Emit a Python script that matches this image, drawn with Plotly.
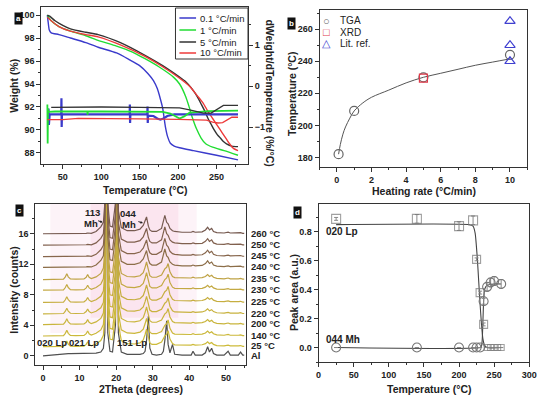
import plotly.graph_objects as go

W, H = 550, 399
def px(x): return x / W
def py(y): return 1 - y / H

FONT = "Liberation Sans"
AX = "#333333"

# ---------------- Panel a : TGA / dTG ----------------
tga01_T = [30, 31, 32.5, 35, 45, 60, 80, 96, 120, 137, 150, 161, 168, 173, 177, 180, 183.5, 186.5, 190, 195, 202, 220, 250, 278]
tga01_W = [100, 99.4, 98.7, 98.45, 98.3, 98.0, 97.6, 97.2, 96.7, 96.1, 95.6, 94.9, 94.3, 93.6, 92.7, 91.9, 90.3, 89.4, 88.85, 88.6, 88.45, 88.2, 87.8, 87.4]
tga1_T = [30, 35, 45, 60, 80, 96, 120, 140, 157, 175, 194, 202, 210, 214, 218, 224, 230, 236, 245, 260, 278]
tga1_W = [100, 99.5, 99.0, 98.6, 98.2, 97.8, 97.3, 96.8, 96.2, 95.5, 94.6, 94.0, 92.9, 92.1, 91.2, 90.1, 89.3, 88.8, 88.5, 88.2, 87.8]
tga5_T = [30, 33, 40, 50, 60, 80, 96, 125, 157, 180, 202, 210, 218, 225, 230.5, 235, 239, 243, 247, 251, 255, 259, 263, 270, 278]
tga5_W = [100, 99.9, 99.5, 99.1, 98.8, 98.5, 98.3, 97.6, 96.5, 95.6, 94.6, 94.2, 93.6, 92.9, 92.2, 91.6, 91.0, 90.5, 90.0, 89.6, 89.3, 89.0, 88.8, 88.6, 88.55]
tga10_T = [30, 35, 45, 60, 80, 96, 125, 157, 180, 202, 215, 226, 233, 239, 245, 251, 255, 259, 263, 267, 272, 278]
tga10_W = [99.8, 99.5, 99.0, 98.6, 98.3, 98.1, 97.4, 96.4, 95.5, 94.5, 93.8, 92.9, 92.3, 91.6, 91.0, 90.4, 90.0, 89.6, 89.2, 88.8, 88.4, 88.2]

dtg01_T = [31, 31.5, 32, 33, 48, 48.3, 48.6, 49, 80, 110, 137, 137.3, 137.6, 138, 160, 160.3, 160.6, 161, 168, 173, 177, 181, 186, 195, 230, 260, 278]
dtg01_V = [-0.69, -0.55, -0.95, -0.69, -0.69, -0.3, -1.0, -0.69, -0.69, -0.69, -0.69, -0.45, -0.9, -0.69, -0.69, -0.5, -0.9, -0.72, -0.73, -0.79, -0.82, -0.79, -0.73, -0.69, -0.69, -0.69, -0.69]
dtg1_T = [30, 30.4, 30.8, 31.5, 40, 60, 82, 82.3, 82.6, 100, 140, 180, 190, 196, 202, 208, 215, 240, 260, 278]
dtg1_V = [-0.45, -1.4, -0.55, -0.63, -0.62, -0.62, -0.62, -0.7, -0.62, -0.62, -0.62, -0.63, -0.67, -0.74, -0.79, -0.74, -0.65, -0.61, -0.6, -0.6]
dtg5_T = [35, 60, 100, 150, 202, 215, 225, 233, 243, 250, 255, 259, 265, 278]
dtg5_V = [-0.52, -0.51, -0.51, -0.52, -0.53, -0.58, -0.63, -0.66, -0.66, -0.58, -0.52, -0.47, -0.47, -0.47]
dtg10_T = [30, 50, 70, 100, 150, 200, 237, 245, 252, 258, 264, 270, 278]
dtg10_V = [-0.82, -0.82, -0.79, -0.79, -0.8, -0.81, -0.83, -0.88, -0.9, -0.89, -0.82, -0.76, -0.76]

rate_labels = ["0.1 °C/min", "1 °C/min", "5 °C/min", "10 °C/min"]
rate_colors = ["#3a3acb", "#22dd33", "#333333", "#ee3a3a"]

# ---------------- Panel b ----------------
tga_rate = [0.1, 1, 5, 10]
tga_temp = [182, 209, 230, 244]
xrd_rate = [5]
xrd_temp = [229.5]
lit_rate = [10, 10, 10]
lit_temp = [265, 250, 240]
fit_rate = [0.1, 0.2, 0.35, 0.5, 0.75, 1, 1.5, 2, 3, 4, 5, 6, 7, 8, 9, 10]
fit_temp = [182, 188, 194.5, 199, 204.5, 209, 214, 217.5, 222, 226.5, 230, 232.5, 235, 237.5, 239.5, 241.5]

# ---------------- Panel c : XRD ----------------
two_theta = [0, 2, 4, 5.6, 6.1, 6.5, 6.9, 7.5, 9, 11.2, 11.8, 12.2, 12.6, 13.2, 14.5, 15.8, 16.5, 16.9, 17.3, 17.7, 18.3, 19.0,
             19.8, 20.2, 20.6, 21.4, 23, 25, 26.5, 27.4, 27.9, 28.3, 28.8, 29.2, 29.8, 31, 32.4, 32.9, 33.3, 33.8, 34.2, 34.7,
             35.4, 36.0, 38, 40.5, 41, 41.6, 43.5, 44.4, 45, 45.5, 46.1, 46.6, 47.5, 49.5, 50.6, 51.2, 53.4, 54, 54.6, 55]
prof_al = [0, 0.1, 0.25, 0.3, 0.3, 0.3, 0.3, 0.3, 0.3, 0.3, 0.3, 0.3, 0.3, 0.3, 0.35, 0.5, 1.0, 3, 30, 3, 0.6, 0.5,
           4, 30, 3, 0.5, 0.2, 0.2, 0.2, 0.3, 0.6, 2, 5.2, 1, 0.2, 0.1, 0.2, 0.6, 2, 4.6, 1.5, 0.4,
           1.5, 0.2, 0.1, 0.1, 0.6, 0.1, 0.1, 0.4, 1.2, 0.5, 1.0, 0.3, 0.1, 0.1, 0.6, 0.1, 0.1, 0.5, 0.1, 0.1]
prof_lp = [0, 0, 0, 0.05, 0.35, 0.75, 0.35, 0.08, 0.05, 0.08, 0.3, 0.65, 0.3, 0.12, 0.35, 0.8, 1.5, 4, 30, 4, 1.0, 0.9,
           4, 30, 3, 0.8, 0.4, 0.35, 0.5, 0.9, 1.6, 2.3, 1.3, 0.5, 0.3, 0.3, 0.6, 1.0, 1.4, 1.6, 2.1, 1.0,
           0.4, 0.25, 0.2, 0.2, 0.3, 0.2, 0.25, 0.4, 0.65, 0.4, 0.55, 0.3, 0.15, 0.1, 0.2, 0.1, 0.1, 0.15, 0.05, 0.05]
prof_mh = [0, 0, 0, 0, 0.02, 0.05, 0.02, 0, 0, 0.03, 0.06, 0.1, 0.06, 0.05, 0.3, 0.9, 1.5, 4, 30, 4, 1.0, 0.9,
           4, 30, 3, 0.8, 0.4, 0.4, 0.6, 1.1, 1.7, 2.2, 1.0, 0.5, 0.3, 0.3, 0.7, 1.6, 2.4, 1.5, 1.3, 0.7,
           0.4, 0.3, 0.2, 0.2, 0.3, 0.2, 0.25, 0.5, 0.85, 0.5, 0.7, 0.3, 0.15, 0.1, 0.2, 0.1, 0.1, 0.15, 0.05, 0.05]
xrd_labels = ["Al", "25 °C", "140 °C", "200 °C", "220 °C", "225 °C", "230 °C", "235 °C", "240 °C", "245 °C", "250 °C", "260 °C"]
xrd_offsets = [0, 1.2, 2.6, 4.1, 5.5, 7.0, 8.6, 10.0, 11.6, 13.0, 14.5, 16.0]
xrd_phase = ["al", "lp", "lp", "lp", "lp", "lp", "lp", "lp", "mh", "mh", "mh", "mh"]
xrd_colors = ["#505050", "#cdbb3a", "#cbb83a", "#c9b53c", "#c8b23e", "#c6ae40", "#c3a942", "#bfa345",
              "#8c6e48", "#87664c", "#80604e", "#765a50"]

# ---------------- Panel d ----------------
lp_T = [25, 140, 200, 220, 225, 230, 235, 240, 245, 250, 255, 260]
lp_A = [0.89, 0.89, 0.84, 0.88, 0.61, 0.38, 0.16, 0.0, 0.0, 0.0, 0.0, 0.0]
lp_err = [0.01, 0.03, 0.03, 0.03, 0.01, 0.01, 0.01, 0.0, 0.0, 0.0, 0.0, 0.0]
mh_T = [25, 140, 200, 220, 225, 230, 235, 240, 245, 250, 260]
mh_A = [0.0, 0.0, 0.0, 0.0, 0.0, 0.0, 0.32, 0.42, 0.45, 0.46, 0.44]
mh_err = [0, 0, 0, 0, 0, 0, 0.02, 0.03, 0.03, 0.03, 0.03]
lpfit_T = [25, 215, 220, 223, 226, 228, 230, 232, 234, 236, 240, 260]
lpfit_A = [0.85, 0.85, 0.84, 0.79, 0.62, 0.46, 0.30, 0.16, 0.06, 0.02, 0.0, 0.0]
mhfit_T = [25, 230, 232, 233, 234, 235, 236, 238, 240, 250, 260]
mhfit_A = [0, 0, 0.01, 0.05, 0.18, 0.32, 0.39, 0.42, 0.43, 0.44, 0.44]

fig = go.Figure()

# panel a
for T, Wt, c in zip([tga01_T, tga1_T, tga5_T, tga10_T], [tga01_W, tga1_W, tga5_W, tga10_W], rate_colors):
    fig.add_trace(go.Scatter(x=T, y=Wt, mode="lines", line=dict(color=c, width=1.4, shape="spline", smoothing=0.6),
                             xaxis="x", yaxis="y", showlegend=False))
for T, V, c, w in zip([dtg01_T, dtg1_T, dtg5_T, dtg10_T], [dtg01_V, dtg1_V, dtg5_V, dtg10_V], rate_colors, [2.2, 1.8, 1.3, 1.3]):
    fig.add_trace(go.Scatter(x=T, y=V, mode="lines", line=dict(color=c, width=w),
                             xaxis="x", yaxis="y2", showlegend=False))

# panel b
fig.add_trace(go.Scatter(x=fit_rate, y=fit_temp, mode="lines", line=dict(color="#555555", width=1, shape="spline"),
                         xaxis="x2", yaxis="y3", showlegend=False))
fig.add_trace(go.Scatter(x=tga_rate, y=tga_temp, mode="markers", name="TGA",
                         marker=dict(symbol="circle-open", size=9, color="#666666", line=dict(width=1.2)),
                         xaxis="x2", yaxis="y3", showlegend=False))
fig.add_trace(go.Scatter(x=xrd_rate, y=xrd_temp, mode="markers", name="XRD",
                         marker=dict(symbol="square-open", size=8, color="#e03a4a", line=dict(width=1.2)),
                         xaxis="x2", yaxis="y3", showlegend=False))
fig.add_trace(go.Scatter(x=lit_rate, y=lit_temp, mode="markers", name="Lit. ref.",
                         marker=dict(symbol="triangle-up-open", size=9, color="#4040d0", line=dict(width=1.2)),
                         xaxis="x2", yaxis="y3", showlegend=False))

# panel c
profiles = {"al": prof_al, "lp": prof_lp, "mh": prof_mh}
for lab, off, ph, c in zip(xrd_labels, xrd_offsets, xrd_phase, xrd_colors):
    fig.add_trace(go.Scatter(x=two_theta, y=[v + off for v in profiles[ph]], mode="lines",
                             line=dict(color=c, width=1.2), xaxis="x3", yaxis="y4", showlegend=False, name=lab))

# panel d
fig.add_trace(go.Scatter(x=lpfit_T, y=lpfit_A, mode="lines", line=dict(color="#444444", width=1.1, shape="spline", smoothing=0.5),
                         xaxis="x4", yaxis="y5", showlegend=False))
fig.add_trace(go.Scatter(x=mhfit_T, y=mhfit_A, mode="lines", line=dict(color="#444444", width=1.1, shape="spline", smoothing=0.5),
                         xaxis="x4", yaxis="y5", showlegend=False))
fig.add_trace(go.Scatter(x=lp_T, y=lp_A, mode="markers", name="020 Lp",
                         error_y=dict(type="data", array=lp_err, color="#888888", thickness=1, width=2),
                         marker=dict(symbol="square-open", size=[9, 9, 9, 9, 8, 8, 8, 6, 6, 6, 6, 6], color="#777777", line=dict(width=1.1)),
                         xaxis="x4", yaxis="y5", showlegend=False))
fig.add_trace(go.Scatter(x=mh_T, y=mh_A, mode="markers", name="044 Mh",
                         error_y=dict(type="data", array=mh_err, color="#888888", thickness=1, width=2),
                         marker=dict(symbol="circle-open", size=9, color="#777777", line=dict(width=1.1)),
                         xaxis="x4", yaxis="y5", showlegend=False))

tickfont = dict(family=FONT, size=9, color="#222222", weight="bold")

def axstyle(**kw):
    d = dict(showline=True, linecolor=AX, linewidth=1, ticks="outside", ticklen=4, tickwidth=1, tickcolor=AX,
             tickfont=tickfont, showgrid=False, zeroline=False, mirror=True)
    d.update(kw)
    return d

fig.update_layout(
    width=W, height=H, margin=dict(l=0, r=0, t=0, b=0),
    paper_bgcolor="white", plot_bgcolor="white", showlegend=False,
    xaxis=axstyle(domain=[px(39), px(250)], range=[22, 291], anchor="y", dtick=50, tick0=0,
                  minor=dict(ticks="outside", ticklen=2, dtick=25, tickcolor=AX)),
    yaxis=axstyle(domain=[py(164), py(7)], range=[87.04, 100.7], anchor="x", dtick=2, tick0=0, mirror=False,
                  minor=dict(ticks="outside", ticklen=2, dtick=1, tickcolor=AX)),
    yaxis2=axstyle(overlaying="y", side="right", range=[-1.9, 1.927], anchor="x", dtick=1, mirror=False,
                   minor=dict(ticks="outside", ticklen=2, dtick=0.5, tickcolor=AX)),
    xaxis2=axstyle(domain=[px(323), px(535)], range=[-1, 11], anchor="y3", dtick=2, tick0=0,
                   minor=dict(ticks="outside", ticklen=2, dtick=1, tickcolor=AX)),
    yaxis3=axstyle(domain=[py(167), py(10)], range=[174, 272], anchor="x2", dtick=20, tick0=0,
                   minor=dict(ticks="outside", ticklen=2, dtick=10, tickcolor=AX)),
    xaxis3=axstyle(domain=[px(33), px(248)], range=[-2.1, 55.5], anchor="y4", dtick=10, tick0=0,
                   minor=dict(ticks="outside", ticklen=2, dtick=5, tickcolor=AX)),
    yaxis4=axstyle(domain=[py(365), py(204)], range=[-1.2, 19.9], anchor="x3", dtick=4, tick0=0,
                   minor=dict(ticks="outside", ticklen=2, dtick=2, tickcolor=AX)),
    xaxis4=axstyle(domain=[px(322), px(537)], range=[0, 300], anchor="y5", dtick=50, tick0=0,
                   minor=dict(ticks="outside", ticklen=2, dtick=25, tickcolor=AX)),
    yaxis5=axstyle(domain=[py(362), py(204)], range=[-0.1, 0.993], anchor="x4", dtick=0.2, tick0=0, tickformat=".1f",
                   minor=dict(ticks="outside", ticklen=2, dtick=0.1, tickcolor=AX)),
)

shapes = []
# pink shading in panel c
shapes.append(dict(type="rect", xref="x3", yref="y4", x0=2, x1=42, y0=3, y1=19.9, fillcolor="rgba(245,190,215,0.18)",
                   line=dict(width=0), layer="below"))
shapes.append(dict(type="rect", xref="x3", yref="y4", x0=13, x1=37, y0=5, y1=19.9, fillcolor="rgba(245,180,210,0.22)",
                   line=dict(width=0), layer="below"))
# legend box panel a
shapes.append(dict(type="rect", xref="paper", yref="paper", x0=px(176), x1=px(250), y0=py(59), y1=py(8),
                   fillcolor="white", line=dict(color=AX, width=1), layer="above"))
leg_y = [18, 30, 42, 53]
for yy, c in zip(leg_y, rate_colors):
    shapes.append(dict(type="line", xref="paper", yref="paper", x0=px(180), x1=px(197), y0=py(yy), y1=py(yy),
                       line=dict(color=c, width=1.5), layer="above"))

ann = []
def text(x, y, s, size=10, bold=True, color="#222222", xanchor="center", angle=0, yanchor="middle"):
    ann.append(dict(xref="paper", yref="paper", x=px(x), y=py(y), text=s, showarrow=False, textangle=angle,
                    xanchor=xanchor, yanchor=yanchor,
                    font=dict(family=FONT, size=size, color=color, weight="bold" if bold else "normal")))

for yy, lab in zip(leg_y, rate_labels):
    text(199, yy, lab, size=9.5, bold=False, xanchor="left")

# axis titles
text(145, 190, "Temperature (°C)", size=10.5)
text(11, 86, "Weight (%)", size=10.5, angle=-90)
text(272, 93, "dWeight/dTemperature (%/°C)", size=10.5, angle=90)
text(430, 191, "Heating rate (°C/min)", size=10.5)
text(295, 94, "Temperature (°C)", size=10.5, angle=-90)
text(141, 389, "2Theta (degrees)", size=10.5)
text(11, 290, "Intensity (counts)", size=10.5, angle=-90)
text(435, 389, "Temperature (°C)", size=10.5)
text(297, 293, "Peak area (a.u.)", size=10.5, angle=-90)

# panel b legend
for yy, sym, c, lab in zip([21, 32, 43], ["○", "□", "△"], ["#666666", "#e03a4a", "#4040d0"], ["TGA", "XRD", "Lit. ref."]):
    text(330, yy, sym, size=11, bold=False, color=c)
    text(342, yy, lab, size=10, bold=False, xanchor="left")

# panel c labels
for lab, off in zip(xrd_labels, xrd_offsets):
    ann.append(dict(xref="paper", yref="y4", x=px(251), y=off + 0.1, text=lab, showarrow=False, xanchor="left",
                    yanchor="middle", font=dict(family=FONT, size=9.5, color="#222222", weight="bold")))
text(91, 212, "113", size=9.5)
text(90, 223, "Mh", size=9.5)
text(128, 213, "044", size=9.5)
text(129, 224, "Mh", size=9.5)
text(50, 342, "020 Lp", size=9.5)
text(83, 342, "021 Lp", size=9.5)
text(132, 342, "151 Lp", size=9.5)
for xx, yy in [(16.3, 17.5), (27.3, 17.4)]:
    ann.append(dict(xref="x3", yref="y4", x=xx, y=yy, text="", showarrow=True, arrowhead=2, arrowsize=0.5,
                    arrowwidth=1, arrowcolor="#222222", ax=-6, ay=-2))

# panel d labels
text(328, 231, "020 Lp", size=10, xanchor="left")
text(328, 339, "044 Mh", size=10, xanchor="left")

# panel letters
for x, y, s in [(11, 12, "a"), (294, 17, "b"), (12, 210, "c"), (301, 212, "d")]:
    ann.append(dict(xref="paper", yref="paper", x=px(x), y=py(y), text=s, showarrow=False, bgcolor="#111111",
                    borderpad=1, font=dict(family=FONT, size=8, color="white", weight="bold")))

fig.update_layout(shapes=shapes, annotations=ann)
fig.write_html("out.html", config={"displayModeBar": False},
               post_script="document.body.style.margin='0px';document.body.style.overflow='hidden';")
